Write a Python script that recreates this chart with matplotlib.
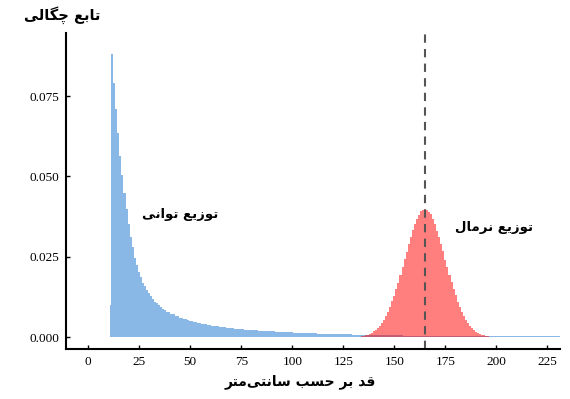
import numpy as np
import matplotlib
matplotlib.use('Agg')
import matplotlib.pyplot as plt

# density of the power-law sample, first bin is the short one at the cut-off,
# then bins of width 1 starting at 11.3
blue_first_edge = 10.8
blue_heights = [
    0.0100,
    0.0880, 0.0790, 0.0710, 0.0635, 0.0565, 0.0505, 0.0450, 0.0400, 0.0352, 0.0312,
    0.0280, 0.0248, 0.0224, 0.0203, 0.0186, 0.0170, 0.0158, 0.0146, 0.0137, 0.0127,
    0.0120, 0.0111, 0.0106, 0.0099, 0.0095, 0.0089, 0.0086, 0.0080, 0.0078, 0.0073,
    0.0071, 0.0067, 0.0065, 0.0061, 0.0060, 0.0057, 0.0056, 0.0053, 0.0052, 0.0050,
    0.0048, 0.0046, 0.0045, 0.0043, 0.0042, 0.0041, 0.0040, 0.0038, 0.0037, 0.0036,
    0.0035, 0.0034, 0.0034, 0.0032, 0.0032, 0.0031, 0.0030, 0.0030, 0.0029, 0.0028,
    0.0027, 0.0027, 0.0026, 0.0025, 0.0025, 0.0024, 0.0024, 0.0023, 0.0022, 0.0022,
    0.0021, 0.0021, 0.0020, 0.0020, 0.0020, 0.0019, 0.0019, 0.0018, 0.0018, 0.0018,
    0.0017, 0.0017, 0.0017, 0.0016, 0.0016, 0.0016, 0.0015, 0.0015, 0.0015, 0.0014,
    0.0014, 0.0014, 0.0014, 0.0013, 0.0013, 0.0013, 0.0013, 0.0012, 0.0012, 0.0012,
    0.0012, 0.0011, 0.0011, 0.0011, 0.0011, 0.0011, 0.0010, 0.0010, 0.0010, 0.0010,
    0.0010, 0.0010, 0.0009, 0.0009, 0.0009, 0.0009, 0.0009, 0.0009, 0.0008, 0.0008,
    0.0008, 0.0008, 0.0008, 0.0008, 0.0008, 0.0007, 0.0007, 0.0007, 0.0007, 0.0007,
    0.0007, 0.0007, 0.0007, 0.0006, 0.0006, 0.0006, 0.0006, 0.0006, 0.0006, 0.0006,
    0.0006, 0.0006, 0.0006, 0.0005, 0.0005, 0.0005, 0.0005, 0.0005, 0.0005, 0.0005,
    0.0005, 0.0005, 0.0005, 0.0005, 0.0005, 0.0005, 0.0005, 0.0005, 0.0005, 0.0005,
    0.0005, 0.0005, 0.0005, 0.0005, 0.0005, 0.0005, 0.0005, 0.0005, 0.0005, 0.0005,
    0.0005, 0.0005, 0.0005, 0.0005, 0.0005, 0.0005, 0.0005, 0.0005, 0.0005, 0.0005,
    0.0005, 0.0005, 0.0005, 0.0005, 0.0005, 0.0005, 0.0005, 0.0005, 0.0005, 0.0005,
    0.0005, 0.0005, 0.0005, 0.0005, 0.0005, 0.0005, 0.0005, 0.0005, 0.0005, 0.0005,
    0.0005, 0.0005, 0.0005, 0.0005, 0.0005, 0.0005, 0.0005, 0.0005, 0.0005, 0.0005,
    0.0005, 0.0005, 0.0005, 0.0005, 0.0005, 0.0005, 0.0005, 0.0005, 0.0005, 0.0005,
]

# density of the normal sample, one bin per cm centred on 131..199
red_centers = list(range(131, 200))
red_heights = [
    0.0001, 0.0001, 0.0002, 0.0003, 0.0004, 0.0006, 0.0008, 0.0011, 0.0014, 0.0018,
    0.0022, 0.0029, 0.0035, 0.0043, 0.0055, 0.0065, 0.0080, 0.0093, 0.0112, 0.0129,
    0.0151, 0.0170, 0.0195, 0.0217, 0.0243, 0.0265, 0.0291, 0.0311, 0.0334, 0.0351,
    0.0369, 0.0380, 0.0392, 0.0396, 0.0400, 0.0397, 0.0390, 0.0382, 0.0367, 0.0353,
    0.0332, 0.0313, 0.0289, 0.0267, 0.0241, 0.0219, 0.0193, 0.0172, 0.0149, 0.0131,
    0.0110, 0.0095, 0.0078, 0.0067, 0.0053, 0.0045, 0.0034, 0.0028, 0.0022, 0.0017,
    0.0014, 0.0010, 0.0008, 0.0006, 0.0004, 0.0003, 0.0002, 0.0002, 0.0001,
]
mean_height = 165

x_ticks = [0, 25, 50, 75, 100, 125, 150, 175, 200, 225]
y_ticks = [0.0, 0.025, 0.050, 0.075]

title_y = 'تابع چگالی'
title_x = 'قد بر حسب سانتی\u200cمتر'
label_power = 'توزیع توانی'
label_normal = 'توزیع نرمال'

# matplotlib has no arabic shaping, so map letters to presentation forms
# (isolated, final, initial, medial); None initial = joins only to the right
FORMS = {
    'ا': ('\uFE8D', '\uFE8E', None, None),
    'ب': ('\uFE8F', '\uFE90', '\uFE91', '\uFE92'),
    'ت': ('\uFE95', '\uFE96', '\uFE97', '\uFE98'),
    'ح': ('\uFEA1', '\uFEA2', '\uFEA3', '\uFEA4'),
    'د': ('\uFEA9', '\uFEAA', None, None),
    'ر': ('\uFEAD', '\uFEAE', None, None),
    'ز': ('\uFEAF', '\uFEB0', None, None),
    'س': ('\uFEB1', '\uFEB2', '\uFEB3', '\uFEB4'),
    'ع': ('\uFEC9', '\uFECA', '\uFECB', '\uFECC'),
    'ق': ('\uFED5', '\uFED6', '\uFED7', '\uFED8'),
    'ل': ('\uFEDD', '\uFEDE', '\uFEDF', '\uFEE0'),
    'م': ('\uFEE1', '\uFEE2', '\uFEE3', '\uFEE4'),
    'ن': ('\uFEE5', '\uFEE6', '\uFEE7', '\uFEE8'),
    'و': ('\uFEED', '\uFEEE', None, None),
    'ی': ('\uFBFC', '\uFBFD', '\uFBFE', '\uFBFF'),
    'چ': ('\uFB7A', '\uFB7B', '\uFB7C', '\uFB7D'),
    'گ': ('\uFB92', '\uFB93', '\uFB94', '\uFB95'),
}


def farsi(s):
    out = []
    for i, c in enumerate(s):
        if c not in FORMS:
            if c != '\u200c':
                out.append(c)
            continue
        prev = s[i - 1] if i > 0 else None
        nxt = s[i + 1] if i + 1 < len(s) else None
        join_prev = prev in FORMS and FORMS[prev][2] is not None
        join_next = nxt in FORMS and FORMS[c][2] is not None
        isol, fin, ini, med = FORMS[c]
        if join_prev and join_next:
            out.append(med)
        elif join_prev:
            out.append(fin)
        elif join_next:
            out.append(ini)
        else:
            out.append(isol)
    return ''.join(reversed(out))


fa_font = dict(family=['DejaVu Sans'], fontweight='bold')

fig = plt.figure(figsize=(5.7, 3.99), dpi=100)
ax = fig.add_axes([0.116, 0.125, 0.866, 0.792])

blue_edges = np.r_[blue_first_edge, 11.3 + np.arange(len(blue_heights))]
ax.stairs(blue_heights, blue_edges, fill=True, color='#8ab8e6', linewidth=0)

red_edges = np.r_[np.array(red_centers) - 0.5, red_centers[-1] + 0.5]
ax.stairs(red_heights, red_edges, fill=True, color='red', alpha=0.5, linewidth=0)

ax.axvline(mean_height, color='#555555', linestyle=(0, (4, 3)), linewidth=1.5)

ax.set_xlim(-10.8, 231)
ax.set_ylim(-0.0037, 0.0946)
ax.set_xticks(x_ticks)
ax.set_yticks(y_ticks)
ax.set_xticklabels([str(t) for t in x_ticks])
ax.set_yticklabels(['%.3f' % t for t in y_ticks])
for lab in ax.get_xticklabels() + ax.get_yticklabels():
    lab.set_family('Liberation Serif')
    lab.set_fontsize(9.5)
ax.tick_params(direction='in', length=3, width=1, pad=5)

for side in ['top', 'right']:
    ax.spines[side].set_visible(False)
for side in ['left', 'bottom']:
    ax.spines[side].set_linewidth(1.5)

ax.text(45, 0.0383, farsi(label_power), ha='center', va='center', fontsize=9.5, **fa_font)
ax.text(199, 0.0342, farsi(label_normal), ha='center', va='center', fontsize=9.5, **fa_font)
fig.text(62 / 570, 1 - 15 / 399, farsi(title_y), ha='center', va='center', fontsize=10.5, **fa_font)
fig.text(300 / 570, 1 - 382 / 399, farsi(title_x), ha='center', va='center', fontsize=10, **fa_font)

fig.savefig('out.png', dpi=100)
